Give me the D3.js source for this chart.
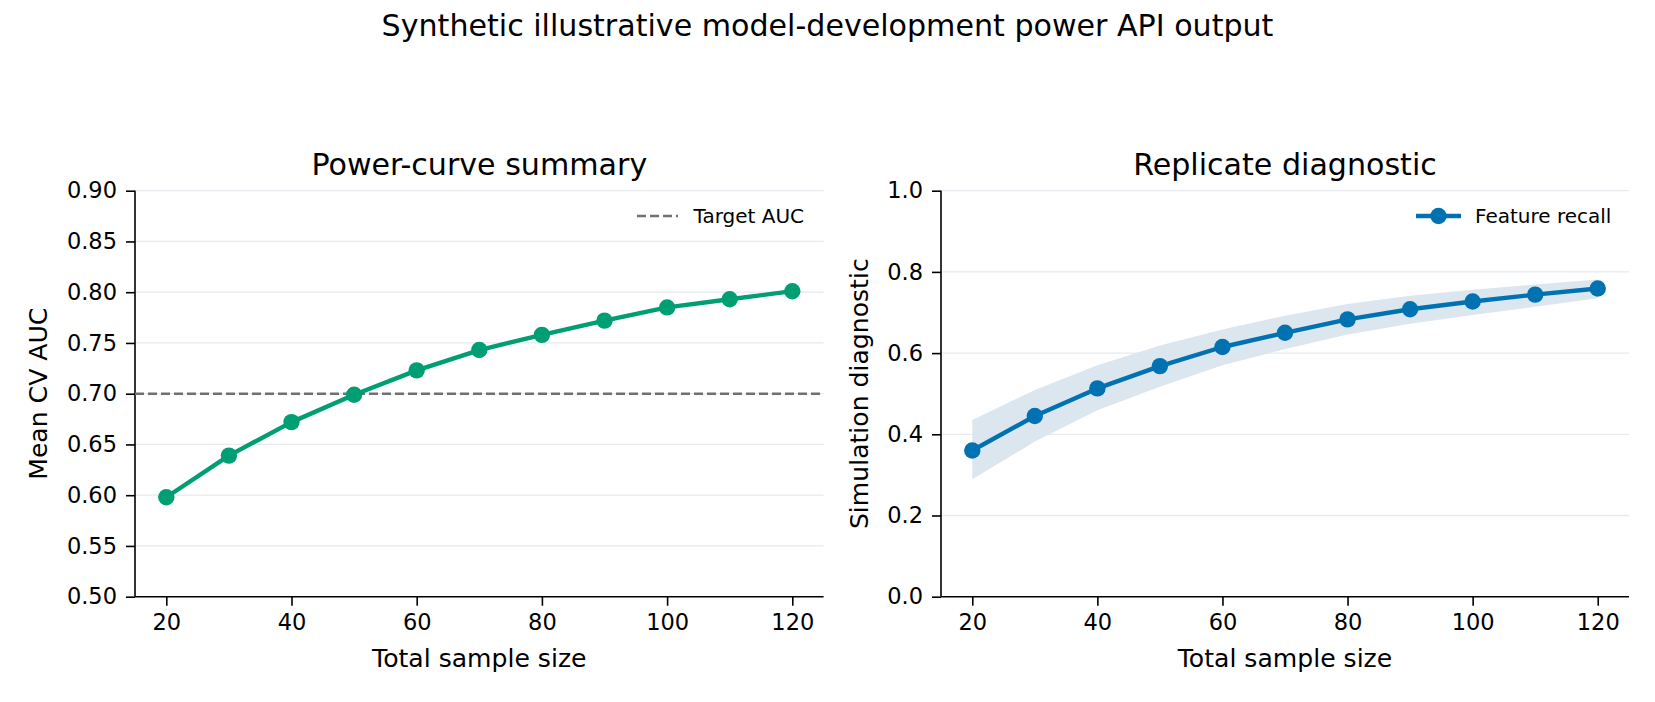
<!doctype html>
<html lang="en">
  <head>
    <meta charset="UTF-8" />
    <title>Synthetic illustrative model-development power API output</title>
    <style>
      body {
        margin: 0;
        background: #fff;
      }

      svg {
        display: block;
        font-family: "DejaVu Sans", sans-serif;
      }
    </style>
  </head>
  <body>
    <svg id="chart"></svg>

    <script src="https://d3js.org/d3.v7.min.js"></script>
    <script>
      // data
      const sampleSizes = [20, 30, 40, 50, 60, 70, 80, 90, 100, 110, 120];
      const meanAuc = [0.598, 0.639, 0.672, 0.699, 0.723, 0.743, 0.758, 0.772, 0.785, 0.793, 0.801];
      const targetAuc = 0.7;
      const recall = [0.36, 0.445, 0.513, 0.568, 0.615, 0.65, 0.683, 0.708, 0.727, 0.744, 0.759];
      const recallUpper = [0.435, 0.509, 0.57, 0.619, 0.658, 0.692, 0.721, 0.741, 0.756, 0.769, 0.781];
      const recallLower = [0.289, 0.382, 0.459, 0.517, 0.57, 0.61, 0.646, 0.672, 0.694, 0.714, 0.735];
      const xTicks = [20, 40, 60, 80, 100, 120];
      const aucTicks = [0.5, 0.55, 0.6, 0.65, 0.7, 0.75, 0.8, 0.85, 0.9];
      const recallTicks = [0, 0.2, 0.4, 0.6, 0.8, 1.0];

      const W = 1655;
      const H = 702;
      const plotTop = 190.7;
      const plotBottom = 596.7;

      const svg = d3.select("#chart").attr("width", W).attr("height", H);

      svg.append("rect").attr("width", W).attr("height", H).attr("fill", "#fff");

      svg
        .append("text")
        .attr("x", 827.5)
        .attr("y", 36)
        .attr("text-anchor", "middle")
        .attr("font-size", 30.1)
        .text("Synthetic illustrative model-development power API output");

      // draws frame, grid, ticks and labels for one panel
      function panel(left, right, yDomain, yTicks, yFmt, title, yLabel, yLabelX) {
        const x = d3.scaleLinear().domain([15, 125]).range([left, right]);
        const y = d3.scaleLinear().domain(yDomain).range([plotBottom, plotTop]);
        const g = svg.append("g");

        g.append("g")
          .selectAll("line")
          .data(yTicks)
          .join("line")
          .attr("x1", left)
          .attr("x2", right)
          .attr("y1", (d) => y(d))
          .attr("y2", (d) => y(d))
          .attr("stroke", "#e6e9ed")
          .attr("stroke-width", 1.3);

        const xAxis = g
          .append("g")
          .attr("transform", `translate(0,${plotBottom})`)
          .call(d3.axisBottom(x).tickValues(xTicks).tickSize(9).tickPadding(8).tickSizeOuter(0));
        const yAxis = g
          .append("g")
          .attr("transform", `translate(${left},0)`)
          .call(d3.axisLeft(y).tickValues(yTicks).tickFormat(yFmt).tickSize(9).tickPadding(9).tickSizeOuter(0));

        [xAxis, yAxis].forEach((a) => {
          a.select(".domain").attr("stroke", "#000").attr("stroke-width", 1.6);
          a.selectAll(".tick line").attr("stroke", "#000").attr("stroke-width", 1.6);
          a.selectAll(".tick text")
            .attr("fill", "#000")
            .attr("font-size", 22.5)
            .attr("font-family", "DejaVu Sans");
        });
        xAxis.select(".domain").attr("d", `M${left},0H${right}`);
        yAxis.select(".domain").attr("d", `M0,${plotBottom}V${plotTop}`);

        g.append("text")
          .attr("x", (left + right) / 2)
          .attr("y", 175)
          .attr("text-anchor", "middle")
          .attr("font-size", 30.1)
          .text(title);

        g.append("text")
          .attr("x", (left + right) / 2)
          .attr("y", 667)
          .attr("text-anchor", "middle")
          .attr("font-size", 25.1)
          .text("Total sample size");

        g.append("text")
          .attr("transform", `translate(${yLabelX},${(plotTop + plotBottom) / 2}) rotate(-90)`)
          .attr("text-anchor", "middle")
          .attr("font-size", 25.1)
          .text(yLabel);

        return { x, y, g };
      }

      // left: power curve
      const p1 = panel(135, 823.6, [0.5, 0.9], aucTicks, d3.format(".2f"), "Power-curve summary", "Mean CV AUC", 47);

      p1.g
        .append("line")
        .attr("x1", 135)
        .attr("x2", 823.6)
        .attr("y1", p1.y(targetAuc))
        .attr("y2", p1.y(targetAuc))
        .attr("stroke", "#707070")
        .attr("stroke-width", 2.4)
        .attr("stroke-dasharray", "9,4");

      const aucPts = sampleSizes.map((n, i) => [n, meanAuc[i]]);
      p1.g
        .append("path")
        .datum(aucPts)
        .attr("fill", "none")
        .attr("stroke", "#009E73")
        .attr("stroke-width", 4.4)
        .attr("stroke-linejoin", "round")
        .attr("d", d3.line().x((d) => p1.x(d[0])).y((d) => p1.y(d[1])));
      p1.g
        .append("g")
        .selectAll("circle")
        .data(aucPts)
        .join("circle")
        .attr("cx", (d) => p1.x(d[0]))
        .attr("cy", (d) => p1.y(d[1]))
        .attr("r", 8.2)
        .attr("fill", "#009E73");

      // legend (no frame)
      p1.g
        .append("line")
        .attr("x1", 637)
        .attr("x2", 678)
        .attr("y1", 216)
        .attr("y2", 216)
        .attr("stroke", "#707070")
        .attr("stroke-width", 2.4)
        .attr("stroke-dasharray", "9,4");
      p1.g.append("text").attr("x", 693.5).attr("y", 223).attr("font-size", 20).text("Target AUC");

      // right: replicate diagnostic
      const p2 = panel(941, 1629, [0, 1], recallTicks, d3.format(".1f"), "Replicate diagnostic", "Simulation diagnostic", 868);

      p2.g
        .append("path")
        .datum(sampleSizes.map((n, i) => [n, recallLower[i], recallUpper[i]]))
        .attr("fill", "#dce6ee")
        .attr(
          "d",
          d3
            .area()
            .x((d) => p2.x(d[0]))
            .y0((d) => p2.y(d[1]))
            .y1((d) => p2.y(d[2])),
        );

      const recPts = sampleSizes.map((n, i) => [n, recall[i]]);
      p2.g
        .append("path")
        .datum(recPts)
        .attr("fill", "none")
        .attr("stroke", "#0072B2")
        .attr("stroke-width", 4.4)
        .attr("stroke-linejoin", "round")
        .attr("d", d3.line().x((d) => p2.x(d[0])).y((d) => p2.y(d[1])));
      p2.g
        .append("g")
        .selectAll("circle")
        .data(recPts)
        .join("circle")
        .attr("cx", (d) => p2.x(d[0]))
        .attr("cy", (d) => p2.y(d[1]))
        .attr("r", 8.2)
        .attr("fill", "#0072B2");

      p2.g
        .append("line")
        .attr("x1", 1416)
        .attr("x2", 1461)
        .attr("y1", 216)
        .attr("y2", 216)
        .attr("stroke", "#0072B2")
        .attr("stroke-width", 4.4);
      p2.g.append("circle").attr("cx", 1438.5).attr("cy", 216).attr("r", 8.2).attr("fill", "#0072B2");
      p2.g.append("text").attr("x", 1475).attr("y", 223).attr("font-size", 20).text("Feature recall");
    </script>
  </body>
</html>
